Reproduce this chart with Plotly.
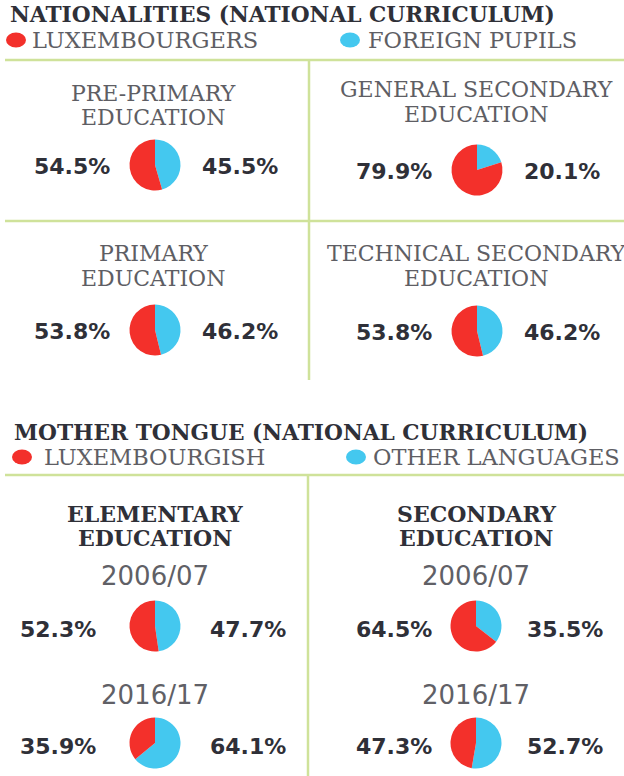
import plotly.graph_objects as go

# ---------------- DATA ----------------
section_titles = ["NATIONALITIES (NATIONAL CURRICULUM)", "MOTHER TONGUE (NATIONAL CURRICULUM)"]
nat_legend = ["LUXEMBOURGERS", "FOREIGN PUPILS"]
tongue_legend = ["LUXEMBOURGISH", "OTHER LANGUAGES"]

nat_panels = ["PRE-PRIMARY<br>EDUCATION", "GENERAL SECONDARY<br>EDUCATION",
              "PRIMARY<br>EDUCATION", "TECHNICAL SECONDARY<br>EDUCATION"]
nat_lux = [54.5, 79.9, 53.8, 53.8]
nat_foreign = [45.5, 20.1, 46.2, 46.2]

tongue_panels = ["ELEMENTARY<br>EDUCATION", "SECONDARY<br>EDUCATION"]
years = ["2006/07", "2016/17"]
tongue_lux = [[52.3, 35.9], [64.5, 47.3]]
tongue_other = [[47.7, 64.1], [35.5, 52.7]]

# ---------------- STYLE / LAYOUT ----------------
W, H = 624, 776
RED = "#f3302b"
BLUE = "#44c8ef"
GREEN = "#cfe29a"
DARK = "#2f3038"
GRAY = "#5e5e64"
PIE_D = 51


def px(x):
    return x / W


def py(y):
    return 1 - y / H


fig = go.Figure()
annotations = []
shapes = []


def text(x, y, s, size, color, family, weight="normal", xanchor="center"):
    annotations.append(dict(
        x=px(x), y=py(y), xref="paper", yref="paper", text=s, showarrow=False,
        xanchor=xanchor, yanchor="middle",
        font=dict(size=size, color=color, family=family, weight=weight)))


def pie(cx, cy, lux, other, name):
    fig.add_trace(go.Pie(
        values=[other, lux], labels=["other", "lux"], sort=False,
        direction="clockwise", rotation=0,
        marker=dict(colors=[BLUE, RED], line=dict(width=0)),
        textinfo="none", hoverinfo="label+value", showlegend=False, name=name,
        domain=dict(x=[px(cx - PIE_D / 2), px(cx + PIE_D / 2)],
                    y=[py(cy + PIE_D / 2), py(cy - PIE_D / 2)])))


def dot(cx, cy, color):
    shapes.append(dict(type="circle", xref="paper", yref="paper",
                       x0=px(cx - 10), x1=px(cx + 10), y0=py(cy + 7.5), y1=py(cy - 7.5),
                       fillcolor=color, line=dict(width=0)))


def hline(y, x0, x1):
    shapes.append(dict(type="line", xref="paper", yref="paper",
                       x0=px(x0), x1=px(x1), y0=py(y), y1=py(y),
                       line=dict(color=GREEN, width=2.5)))


def vline(x, y0, y1):
    shapes.append(dict(type="line", xref="paper", yref="paper",
                       x0=px(x), x1=px(x), y0=py(y0), y1=py(y1),
                       line=dict(color=GREEN, width=2.5)))


SERIF = "DejaVu Serif"
SANS = "DejaVu Sans"
T_SIZE = 21.7
L_SIZE = 22.5
P_SIZE = 22
V_SIZE = 22
Y_SIZE = 26

# ---- Section 1 ----
text(8, 14, section_titles[0], T_SIZE, DARK, SERIF, "bold", "left")
dot(16, 40, RED)
text(30, 40, nat_legend[0], L_SIZE, GRAY, SERIF, "normal", "left")
dot(350, 40, BLUE)
text(366, 40, nat_legend[1], L_SIZE, GRAY, SERIF, "normal", "left")
hline(60, 5, 624)
hline(221, 5, 624)
vline(309, 60, 380)

nat_pies = [(155, 165), (477, 170), (155, 330), (477, 331)]
nat_title_y = [(93, 117), (89, 114), (254, 278), (254, 278)]
for i, title in enumerate(nat_panels):
    cx, cy = nat_pies[i]
    lines = title.split("<br>")
    for ln, yy in zip(lines, nat_title_y[i]):
        text(cx - 2 if i % 2 == 0 else cx - 1, yy, ln, P_SIZE, GRAY, SERIF)
    pie(cx, cy, nat_lux[i], nat_foreign[i], title)
    text(cx - 83, cy + 1, f"{nat_lux[i]:.1f}%", V_SIZE, DARK, SANS, "bold")
    text(cx + 85, cy + 1, f"{nat_foreign[i]:.1f}%", V_SIZE, DARK, SANS, "bold")

# ---- Section 2 ----
text(12, 432, section_titles[1], T_SIZE, DARK, SERIF, "bold", "left")
dot(22, 457, RED)
text(42, 457, tongue_legend[0], L_SIZE, GRAY, SERIF, "normal", "left")
dot(356, 457, BLUE)
text(371, 457, tongue_legend[1], L_SIZE, GRAY, SERIF, "normal", "left")
hline(475, 5, 624)
vline(308, 475, 776)

tongue_cx = [155, 476]
year_y = [576, 695]
pie_y = [626, 743]
for j, title in enumerate(tongue_panels):
    cx = tongue_cx[j]
    lines = title.split("<br>")
    for ln, yy in zip(lines, (514, 538)):
        text(cx, yy, ln, P_SIZE, DARK, SERIF, "bold")
    for k, yr in enumerate(years):
        text(cx, year_y[k], yr, Y_SIZE, "#606066", SANS)
        pie(cx, pie_y[k], tongue_lux[j][k], tongue_other[j][k], f"{title} {yr}")
        off_l = 97 if j == 0 else 82
        off_r = 93 if j == 0 else 89
        text(cx - off_l, pie_y[k] + 3, f"{tongue_lux[j][k]:.1f}%", V_SIZE, DARK, SANS, "bold")
        text(cx + off_r, pie_y[k] + 3, f"{tongue_other[j][k]:.1f}%", V_SIZE, DARK, SANS, "bold")

fig.update_layout(
    width=W, height=H, margin=dict(l=0, r=0, t=0, b=0),
    paper_bgcolor="white", plot_bgcolor="white",
    annotations=annotations, shapes=shapes, showlegend=False)

fig.write_html("out.html", config={"displayModeBar": False},
               post_script="document.body.style.margin='0';")
